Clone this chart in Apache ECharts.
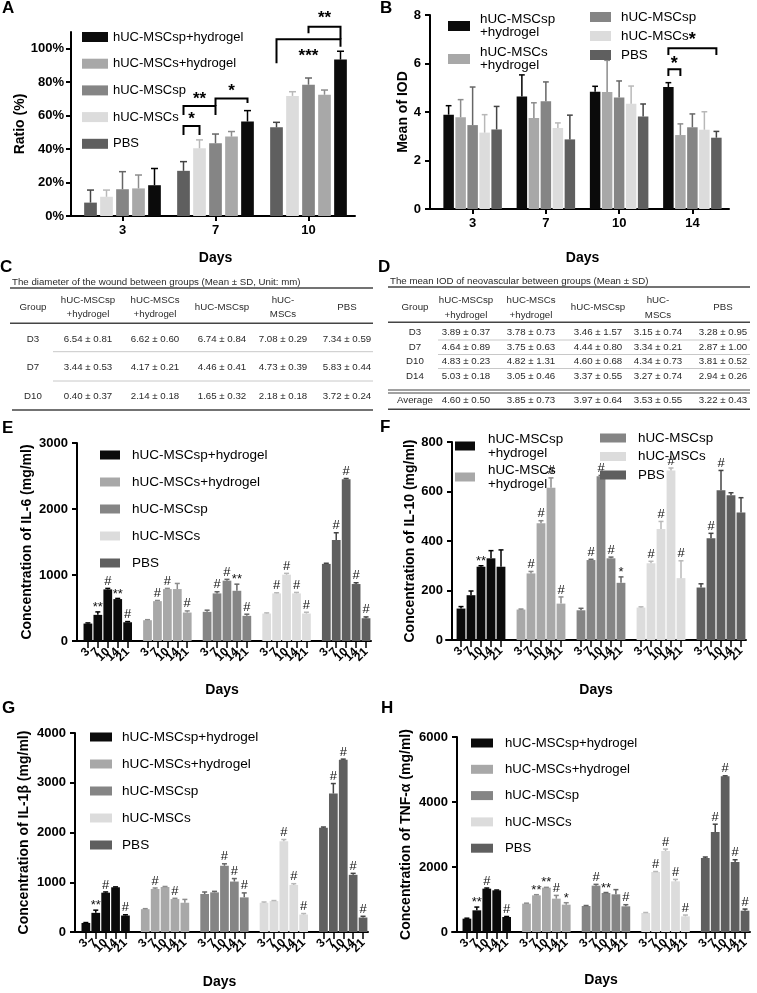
<!DOCTYPE html>
<html><head><meta charset="utf-8">
<script src="https://cdn.jsdelivr.net/npm/echarts@6/dist/echarts.min.js"></script>
<style>html,body{margin:0;padding:0;background:#fff}#c{width:757px;height:993px}</style>
</head><body><div id="c"></div>
<script>
// ---------------- DATA ----------------
const GROUPS = ['hUC-MSCsp+hydrogel', 'hUC-MSCs+hydrogel', 'hUC-MSCsp', 'hUC-MSCs', 'PBS'];

// Panel A: wound healing ratio (%), rows follow GROUPS
const A_DAYS = ['3', '7', '10'];
const A_ORDER = [4, 3, 2, 1, 0];
const A_MEAN = [[18.4, 56.5, 93.5], [16.5, 47.5, 72.5], [16, 43.5, 78.5], [11.5, 40.5, 71.8], [8, 27, 53]];
const A_SD = [[10, 6.5, 5], [8, 3, 2.8], [10.5, 5.5, 4], [4, 5, 2.5], [7.5, 5.5, 3]];
const A_TICKS = [0, 20, 40, 60, 80, 100];
// bracket: [day1, group1, day2, group2, yLine, yLeftEnd, yRightEnd, text, yText]
const A_BRACKETS = [
  [1, 4, 1, 3, 53.8, 48.4, 48.4, '*', 60.4],
  [1, 4, 1, 2, 65.7, 60.4, 60.4, '**', 72.3],
  [1, 2, 1, 0, 70.3, 65.7, 67.5, '*', 77.3],
  [2, 4, 2, 0, 105.6, 91.3, 101.2, '***', 98],
  [2, 2, 2, 0, 113.2, 109.2, 105.6, '**', 121.2]
];

// Panel C table: wound diameter (mm)
const C_ROWS = ['D3', 'D7', 'D10'];
const C_HEAD = ['Group', 'hUC-MSCsp\n+hydrogel', 'hUC-MSCs\n+hydrogel', 'hUC-MSCsp', 'hUC-\nMSCs', 'PBS'];
const C_MEAN = [[6.54, 6.62, 6.74, 7.08, 7.34], [3.44, 4.17, 4.46, 4.73, 5.83], [0.40, 2.14, 1.65, 2.18, 3.72]];
const C_SD = [[0.81, 0.60, 0.84, 0.29, 0.59], [0.53, 0.21, 0.41, 0.39, 0.44], [0.37, 0.18, 0.32, 0.18, 0.24]];

// Panel D table + Panel B bars: mean IOD
const D_ROWS = ['D3', 'D7', 'D10', 'D14', 'Average'];
const D_MEAN = [[3.89, 3.78, 3.46, 3.15, 3.28], [4.64, 3.75, 4.44, 3.34, 2.87], [4.83, 4.82, 4.60, 4.34, 3.81], [5.03, 3.05, 3.37, 3.27, 2.94], [4.60, 3.85, 3.97, 3.53, 3.22]];
const D_SD = [[0.37, 0.73, 1.57, 0.74, 0.95], [0.89, 0.63, 0.80, 0.21, 1.00], [0.23, 1.31, 0.68, 0.73, 0.52], [0.18, 0.46, 0.55, 0.74, 0.26], [0.50, 0.73, 0.64, 0.55, 0.43]];
const B_DAYS = ['3', '7', '10', '14'];
const B_ORDER = [0, 1, 2, 3, 4];
const B_BRACKETS = [
  [3, 0, 3, 4, 6.63, 6.35, 6.35, '*', 7.18],
  [3, 0, 3, 1, 5.76, 5.48, 5.48, '*', 6.17]
];

// Panels E-H: cytokines, rows follow GROUPS, columns follow CYTO_DAYS
const CYTO_DAYS = ['3', '7', '10', '14', '21'];
const E_MEAN = [[264, 396, 782, 635, 284], [315, 604, 787, 787, 431], [442, 721, 914, 761, 381], [416, 721, 1005, 721, 416], [1168, 1530, 2450, 863, 345]];
const E_SD = [[10, 45, 15, 10, 10], [8, 10, 10, 85, 25], [25, 25, 20, 100, 25], [10, 10, 20, 15, 20], [10, 110, 12, 20, 20]];
const E_MARK = [['', '**', '#', '**', '#'], ['', '#', '#', '', '#'], ['', '#', '#', '**', '#'], ['', '#', '#', '#', '#'], ['', '#', '#', '#', '#']];

const F_MEAN = [[127, 181, 296, 330, 296], [123, 269, 472, 615, 147], [120, 323, 662, 330, 231], [131, 310, 448, 685, 250], [212, 411, 605, 585, 515]];
const F_SD = [[8, 17, 4, 31, 68], [2, 8, 10, 40, 27], [8, 3, 3, 5, 24], [3, 8, 31, 10, 70], [15, 20, 80, 10, 60]];
const F_MARK = [['', '', '**', '', ''], ['', '#', '#', '#', '#'], ['', '#', '#', '#', '*'], ['', '#', '#', '#', '#'], ['', '#', '#', '', '']];

const G_MEAN = [[182, 385, 790, 899, 331], [459, 865, 905, 662, 588], [764, 797, 1331, 1014, 696], [588, 622, 1824, 946, 351], [2095, 2784, 3460, 1149, 291]];
const G_SD = [[8, 54, 15, 8, 15], [10, 20, 10, 15, 67], [40, 20, 40, 60, 90], [15, 10, 35, 25, 20], [15, 200, 15, 30, 25]];
const G_MARK = [['', '**', '#', '', '#'], ['', '#', '', '#', ''], ['', '', '#', '#', '#'], ['', '', '#', '#', '#'], ['', '#', '#', '#', '#']];

const H_MEAN = [[410, 667, 1333, 1282, 462], [872, 1128, 1364, 1026, 841], [800, 1426, 1200, 1159, 790], [585, 1846, 2492, 1559, 482], [2277, 3077, 4790, 2154, 656]];
const H_SD = [[15, 100, 20, 10, 15], [15, 20, 10, 100, 60], [15, 40, 15, 145, 50], [15, 15, 60, 60, 40], [30, 240, 15, 70, 50]];
const H_MARK = [['', '**', '#', '', '#'], ['', '**', '**', '#', '*'], ['', '#', '**', '', '#'], ['', '#', '#', '#', '#'], ['', '#', '#', '#', '#']];

// ---------------- STYLE ----------------
const FONT = '"Liberation Sans", Arial, Helvetica, sans-serif';
const COLORS = ['#0b0b0b', '#a8a8a8', '#858585', '#dcdcdc', '#5f5f5f'];
const ERR_COLORS = ['#000000', '#8c8c8c', '#666666', '#b8b8b8', '#444444'];

const chart = echarts.init(document.getElementById('c'), null, {renderer: 'canvas', width: 757, height: 993});
const grids = [], xAxes = [], yAxes = [], series = [], legends = [], graphics = [];

function nameStyle(sz) { return {color: '#000', fontFamily: FONT, fontWeight: 'bold', fontSize: sz || 14}; }
function lblStyle(extra) { return Object.assign({color: '#000', fontFamily: FONT, fontWeight: 'bold', fontSize: 13}, extra || {}); }
const AXLINE = {show: true, lineStyle: {color: '#000', width: 2}};

function valAxis(gi, o) {
  const ax = {
    type: 'value', gridIndex: gi, min: o.min, max: o.max, interval: o.interval, offset: o.offset,
    splitLine: {show: false}, axisLine: AXLINE,
    axisTick: {show: true, length: 5, lineStyle: {color: '#000', width: 2}},
    axisLabel: lblStyle({margin: o.margin || 8, formatter: o.formatter || function (v) { return String(v); }}),
    name: o.name, nameLocation: 'middle', nameGap: o.nameGap, nameTextStyle: nameStyle(o.nameSize)
  };
  if (o.ticks) { ax.axisTick.customValues = o.ticks; ax.axisLabel.customValues = o.ticks; }
  return ax;
}

// bar center offset inside a grouped category
function groupOffset(pos, n, w, gap) { return -(n * w + (n - 1) * gap) / 2 + w / 2 + pos * (w + gap); }

function glyphShift(t, fs) { return t.indexOf('*') >= 0 ? 0.27 * fs : 0; }

// ----- grouped panel (A, B)
function groupedPanel(cfg) {
  const gi = grids.length;
  grids.push(cfg.grid);
  xAxes.push({
    type: 'category', gridIndex: gi, data: cfg.days,
    axisLine: AXLINE, axisTick: {show: true, alignWithLabel: true, length: 5, lineStyle: {color: '#000', width: 2}},
    axisLabel: lblStyle({margin: 8}),
    name: 'Days', nameLocation: 'middle', nameGap: cfg.xNameGap, nameTextStyle: nameStyle(14)
  });
  yAxes.push(valAxis(gi, cfg.y));
  // close the corner between the offset y axis and the x axis line
  const g = cfg.grid;
  graphics.push({type: 'line', shape: {x1: g.left - cfg.y.offset - 1, y1: g.top + g.height, x2: g.left + 1, y2: g.top + g.height},
    style: {stroke: '#000', lineWidth: 2}, z: 10});
  const n = cfg.order.length;
  cfg.order.forEach(function (g) {
    series.push({
      type: 'bar', name: GROUPS[g], xAxisIndex: gi, yAxisIndex: gi,
      data: cfg.mean[g], barWidth: cfg.barW, barGap: (cfg.gap / cfg.barW * 100) + '%',
      itemStyle: {color: COLORS[g]}, z: 2, silent: true
    });
  });
  const errData = [];
  cfg.order.forEach(function (g, pos) {
    cfg.days.forEach(function (d, di) { errData.push([di, cfg.mean[g][di], cfg.sd[g][di], pos, g]); });
  });
  series.push({
    type: 'custom', xAxisIndex: gi, yAxisIndex: gi, data: errData, z: 3, silent: true, clip: false,
    encode: {x: 0, y: 1},
    renderItem: function (params, api) {
      const di = api.value(0), m = api.value(1), s = api.value(2), pos = api.value(3), g = api.value(4);
      const base = api.coord([di, m]);
      const top = api.coord([di, m + s]);
      const cx = base[0] + groupOffset(pos, n, cfg.barW, cfg.gap);
      const col = ERR_COLORS[g];
      const cw = cfg.barW * 0.55;
      return {type: 'group', children: [
        {type: 'line', shape: {x1: cx, y1: base[1], x2: cx, y2: top[1]}, style: {stroke: col, lineWidth: 1.5}},
        {type: 'line', shape: {x1: cx - cw / 2, y1: top[1], x2: cx + cw / 2, y2: top[1]}, style: {stroke: col, lineWidth: 1.5}}
      ]};
    }
  });
  // significance brackets
  series.push({
    type: 'custom', xAxisIndex: gi, yAxisIndex: gi, z: 4, silent: true, clip: false,
    data: cfg.brackets.map(function (b) { return [b[0], b[4], b[2], b[1], b[3], b[5], b[6], b[8]]; }),
    encode: {x: 0, y: 1},
    renderItem: function (params, api) {
      const b = cfg.brackets[params.dataIndex];
      const p1 = cfg.order.indexOf(b[1]), p2 = cfg.order.indexOf(b[3]);
      const x1 = api.coord([b[0], 0])[0] + groupOffset(p1, n, cfg.barW, cfg.gap);
      const x2 = api.coord([b[2], 0])[0] + groupOffset(p2, n, cfg.barW, cfg.gap);
      const y = api.coord([b[0], b[4]])[1], yl = api.coord([b[0], b[5]])[1], yr = api.coord([b[0], b[6]])[1];
      const ty = api.coord([b[0], b[8]])[1];
      const fs = cfg.starSize;
      return {type: 'group', children: [
        {type: 'polyline', shape: {points: [[x1, yl], [x1, y], [x2, y], [x2, yr]]}, style: {stroke: '#000', lineWidth: 2, fill: null}},
        {type: 'text', x: (x1 + x2) / 2, y: ty + glyphShift(b[7], fs), style: {text: b[7], fill: '#000', font: 'bold ' + fs + 'px ' + FONT, align: 'center', verticalAlign: 'middle'}}
      ]};
    }
  });
  return gi;
}

// ----- cytokine panel (E-H)
const SLOT_LABELS = [''];
GROUPS.forEach(function (g, gi) {
  CYTO_DAYS.forEach(function (d) { SLOT_LABELS.push(d); });
  if (gi < GROUPS.length - 1) SLOT_LABELS.push('');
});
const SLOT_KEYS = SLOT_LABELS.map(function (l, i) { return 's' + i; });
function slotOf(g, d) { return 1 + g * 6 + d; }

function cytoPanel(cfg) {
  const gi = grids.length;
  grids.push(cfg.grid);
  xAxes.push({
    type: 'category', gridIndex: gi, data: SLOT_KEYS,
    axisLine: AXLINE,
    axisTick: {show: true, alignWithLabel: true, length: 7, lineStyle: {color: '#000', width: 1.5},
      interval: function (idx) { return SLOT_LABELS[idx] !== ''; }},
    axisLabel: lblStyle({fontSize: 12, rotate: 45, interval: 0, margin: 9,
      formatter: function (v, idx) { return SLOT_LABELS[idx]; }}),
    name: 'Days', nameLocation: 'middle', nameGap: cfg.xNameGap, nameTextStyle: nameStyle(14)
  });
  yAxes.push(valAxis(gi, cfg.y));
  const errData = [], labels = [];
  GROUPS.forEach(function (name, g) {
    const data = SLOT_KEYS.map(function () { return null; });
    CYTO_DAYS.forEach(function (d, di) {
      data[slotOf(g, di)] = cfg.mean[g][di];
      errData.push([slotOf(g, di), cfg.mean[g][di], cfg.sd[g][di], g]);
      labels.push(cfg.mark[g][di]);
    });
    series.push({
      type: 'bar', name: name, xAxisIndex: gi, yAxisIndex: gi, data: data,
      barGap: '-100%', barCategoryGap: '12%', itemStyle: {color: COLORS[g]}, z: 2, silent: true
    });
  });
  series.push({
    type: 'custom', xAxisIndex: gi, yAxisIndex: gi, data: errData, z: 3, silent: true, clip: false,
    encode: {x: 0, y: 1},
    renderItem: function (params, api) {
      const x = api.value(0), m = api.value(1), s = api.value(2), g = api.value(3);
      const base = api.coord([x, m]), top = api.coord([x, m + s]);
      const cx = base[0], col = ERR_COLORS[g], cw = 5;
      const ch = [
        {type: 'line', shape: {x1: cx, y1: base[1], x2: cx, y2: top[1]}, style: {stroke: col, lineWidth: 1.5}},
        {type: 'line', shape: {x1: cx - cw / 2, y1: top[1], x2: cx + cw / 2, y2: top[1]}, style: {stroke: col, lineWidth: 1.5}}
      ];
      const t = labels[params.dataIndex];
      if (t) {
        const star = t.indexOf('*') >= 0;
        ch.push({type: 'text', x: cx, y: star ? top[1] - 4.5 : top[1] - 7,
          style: {text: t, fill: '#111', font: '13px ' + FONT, align: 'center', verticalAlign: 'middle'}});
      }
      return {type: 'group', children: ch};
    }
  });
  return gi;
}

// ---------------- PANELS ----------------
groupedPanel({
  grid: {left: 76, top: 32, width: 279, height: 184},
  days: A_DAYS, order: A_ORDER, mean: A_MEAN, sd: A_SD, brackets: A_BRACKETS,
  barW: 12.7, gap: 3.3, starSize: 17, xNameGap: 35,
  y: {min: 0, max: 110, interval: 20, offset: 5, ticks: A_TICKS, formatter: '{value}%', name: 'Ratio (%)', nameGap: 42, margin: 7}
});
groupedPanel({
  grid: {left: 436, top: 15, width: 293, height: 194},
  days: B_DAYS, order: B_ORDER,
  mean: GROUPS.map(function (g, gi) { return B_DAYS.map(function (d, di) { return D_MEAN[di][gi]; }); }),
  sd: GROUPS.map(function (g, gi) { return B_DAYS.map(function (d, di) { return D_SD[di][gi]; }); }),
  brackets: B_BRACKETS, barW: 10.5, gap: 1.5, starSize: 18, xNameGap: 42,
  y: {min: 0, max: 8, interval: 2, offset: 6, name: 'Mean of IOD', nameGap: 18, margin: 9}
});
cytoPanel({grid: {left: 73, top: 443, width: 298, height: 198}, mean: E_MEAN, sd: E_SD, mark: E_MARK, xNameGap: 42,
  y: {min: 0, max: 3000, interval: 1000, offset: -4, name: 'Concentration of IL-6 (mg/ml)', nameGap: 43, margin: 9}});
cytoPanel({grid: {left: 446, top: 442, width: 300, height: 198}, mean: F_MEAN, sd: F_SD, mark: F_MARK, xNameGap: 43,
  y: {min: 0, max: 800, interval: 200, offset: -6, name: 'Concentration of IL-10 (mg/ml)', nameGap: 30, margin: 9}});
cytoPanel({grid: {left: 71, top: 733, width: 297, height: 199}, mean: G_MEAN, sd: G_SD, mark: G_MARK, xNameGap: 43,
  y: {min: 0, max: 4000, interval: 1000, offset: -4, name: 'Concentration of IL-1β (mg/ml)', nameGap: 44, margin: 9}});
cytoPanel({grid: {left: 452, top: 737, width: 298, height: 195}, mean: H_MEAN, sd: H_SD, mark: H_MARK, xNameGap: 41,
  y: {min: 0, max: 6000, interval: 2000, offset: -5, name: 'Concentration of TNF-α (mg/ml)', nameGap: 44, margin: 9}});

// ---------------- LEGENDS ----------------
function legend(o) {
  return {
    orient: 'vertical', left: o.left, top: o.top, data: o.data, icon: 'rect', selectedMode: false, padding: 0,
    itemWidth: o.w, itemHeight: o.h || 10, itemGap: o.gap,
    formatter: o.multi ? function (n) { return n.replace('+hydrogel', '\n+hydrogel'); } : undefined,
    textStyle: {color: '#000', fontFamily: FONT, fontSize: o.fs, lineHeight: o.lh || 14, padding: [0, 0, 0, o.pad || 0]}
  };
}
legends.push(legend({left: 82, top: 30, data: GROUPS, w: 26, gap: 12.7, fs: 13, pad: 0}));
legends.push(legend({left: 448, top: 12.5, data: GROUPS.slice(0, 2), w: 22, gap: 6, fs: 13.4, lh: 13.5, multi: true, pad: 5}));
legends.push(legend({left: 590, top: 10, data: GROUPS.slice(2), w: 21, gap: 5, fs: 13.4, pad: 5}));
legends.push(legend({left: 100, top: 448, data: GROUPS, w: 20, h: 9, gap: 13, fs: 13.5, pad: 7}));
legends.push(legend({left: 455, top: 432, data: GROUPS.slice(0, 2), w: 20, h: 9, gap: 3, fs: 13.4, lh: 14, multi: true, pad: 8}));
legends.push(legend({left: 600, top: 431, data: GROUPS.slice(2), w: 26, h: 9, gap: 4.5, fs: 13.4, pad: 7}));
legends.push(legend({left: 90, top: 730, data: GROUPS, w: 22, h: 9, gap: 13, fs: 13.6, pad: 5}));
legends.push(legend({left: 471, top: 736, data: GROUPS, w: 22, h: 9, gap: 12.3, fs: 13.2, pad: 7}));

// ---------------- PANEL LETTERS ----------------
[['A', 2, 0], ['B', 380, 0], ['C', 0, 258.5], ['D', 378, 258.5], ['E', 2, 420], ['F', 380, 418.5], ['G', 2, 700], ['H', 381, 700]]
  .forEach(function (l) {
    graphics.push({type: 'text', left: l[1], top: l[2], style: {text: l[0], font: 'bold 17px ' + FONT, fill: '#000'}});
  });

// ---------------- TABLES ----------------
const TFONT = '9.7px ' + FONT, TCOL = '#2a2a2a';
function tText(x, y, t, align, lh) {
  graphics.push({type: 'text', x: x, y: y, style: {text: t, font: TFONT, fill: TCOL, align: align || 'center', verticalAlign: 'middle', lineHeight: lh || 14}});
}
function tLine(x1, x2, y, w, c) {
  graphics.push({type: 'line', shape: {x1: x1, y1: y, x2: x2, y2: y}, style: {stroke: c || '#555', lineWidth: w || 1}});
}
function fmt(m, s) { return m.toFixed(2) + ' ± ' + s.toFixed(2); }

// C
tText(12, 282, 'The diameter of the wound between groups (Mean ± SD, Unit: mm)', 'left');
tLine(10, 373, 288, 1.5, '#444');
const C_X = [33, 88, 155, 222, 283, 347];
C_HEAD.forEach(function (h, i) { tText(C_X[i], 307, h, 'center', 14); });
tLine(10, 373, 323.3, 1.5, '#444');
const C_Y = [339.3, 367.7, 396.7];
C_ROWS.forEach(function (r, ri) {
  tText(C_X[0], C_Y[ri], r);
  C_MEAN[ri].forEach(function (m, ci) { tText(C_X[ci + 1], C_Y[ri], fmt(m, C_SD[ri][ci])); });
});
tLine(53, 373, 351.7, 1, '#c8c8c8');
tLine(53, 373, 381, 1, '#c8c8c8');
tLine(12, 373, 410, 1.5, '#444');

// D
tText(390, 281, 'The mean IOD of neovascular between groups (Mean ± SD)', 'left');
tLine(388, 750, 287, 1.5, '#444');
const D_X = [415, 466, 531, 598, 658, 723];
C_HEAD.forEach(function (h, i) { tText(D_X[i], 307.5, h, 'center', 15); });
tLine(388, 750, 322.3, 1.5, '#444');
const D_Y = [332.3, 347.7, 361.7, 376, 400.3];
D_ROWS.forEach(function (r, ri) {
  tText(D_X[0], D_Y[ri], r);
  D_MEAN[ri].forEach(function (m, ci) { tText(D_X[ci + 1], D_Y[ri], fmt(m, D_SD[ri][ci])); });
});
tLine(438, 750, 340, 1, '#c8c8c8');
tLine(438, 750, 354.5, 1, '#c8c8c8');
tLine(438, 750, 368.5, 1, '#c8c8c8');
tLine(388, 750, 390, 1.2, '#444');
tLine(388, 750, 393, 1.2, '#444');
tLine(388, 750, 409.3, 1.5, '#444');

chart.setOption({
  animation: false,
  backgroundColor: '#ffffff',
  grid: grids, xAxis: xAxes, yAxis: yAxes, series: series, legend: legends,
  graphic: graphics
});
</script>
</body></html>
